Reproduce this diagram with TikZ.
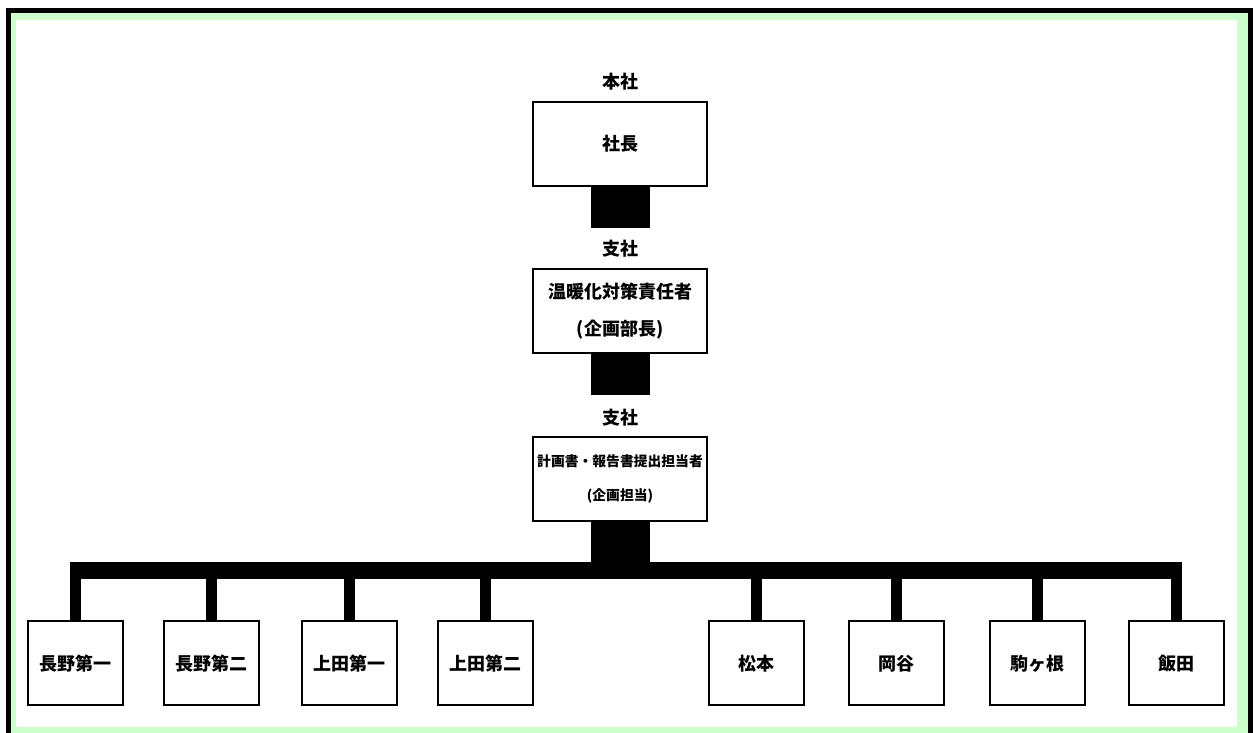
\documentclass[tikz,border=0pt]{standalone}
\usepackage{fontspec}
\setmainfont{Noto Sans CJK JP}
\definecolor{framegreen}{HTML}{CCFFCC}
\begin{document}
\begin{tikzpicture}[x=1pt,y=-1pt,
  box/.style={draw=black,line width=2pt,fill=white,minimum width=174pt,minimum height=84pt,inner sep=0pt,align=center,font=\fontsize{18}{37}\selectfont\bfseries},
  smallbox/.style={box,font=\fontsize{13.8}{34}\selectfont\bfseries},
  leaf/.style={draw=black,line width=2pt,fill=white,minimum width=95pt,minimum height=84pt,inner sep=0pt,font=\fontsize{18}{20}\selectfont\bfseries,text height=16pt,text depth=2pt},
  lbl/.style={inner sep=0pt,font=\fontsize{18}{20}\selectfont\bfseries,text height=16pt,text depth=2pt},
  trunk/.style={line width=59pt},
  barline/.style={line width=17pt},
  dropline/.style={line width=11pt}]
\useasboundingbox (0,0) rectangle (1253,733);
% frame
\fill[black] (6,8) rectangle (1253,733);
\fill[framegreen] (11,13) rectangle (1248,733);
\fill[white] (16,20) rectangle (1237,727);
% top part
\node[lbl] (hq) at (620,82) {本社};
\node[box] (pres) at (620,144) {社長};
\node[lbl] (br1) at (620,248) {支社};
\node[box] (mgr) at (620,311) {温暖化対策責任者\\(企画部長)};
\node[lbl] (br2) at (620,417) {支社};
\node[smallbox] (rep) at (620,478.5) {計画書・報告書提出担当者\\(企画担当)};
\coordinate (t1) at (620,228);
\coordinate (t2) at (620,395);
\coordinate (t3) at (620,562);
\coordinate (barmid) at (620,570.5);
\draw[trunk] (pres.south) -- (t1);
\draw[trunk] (mgr.south) -- (t2);
\draw[trunk] (rep.south) -- (t3);
% leaves
\node[leaf] (n1) at (75,663) {長野第一};
\node[leaf] (n2) at (211.5,663) {長野第二};
\node[leaf] (n3) at (349,663) {上田第一};
\node[leaf] (n4) at (485,663) {上田第二};
\node[leaf] (n5) at (756,663) {松本};
\node[leaf] (n6) at (896.5,663) {岡谷};
\node[leaf] (n7) at (1037,663) {駒ヶ根};
\node[leaf] (n8) at (1176.5,663) {飯田};
\draw[barline] ([xshift=-5.5pt]n1.north |- barmid) -- ([xshift=5.5pt]n8.north |- barmid);
\foreach \n in {n1,n2,n3,n4,n5,n6,n7,n8}
  \draw[dropline] (\n.north |- t3) -- (\n.north);
\end{tikzpicture}
\end{document}
